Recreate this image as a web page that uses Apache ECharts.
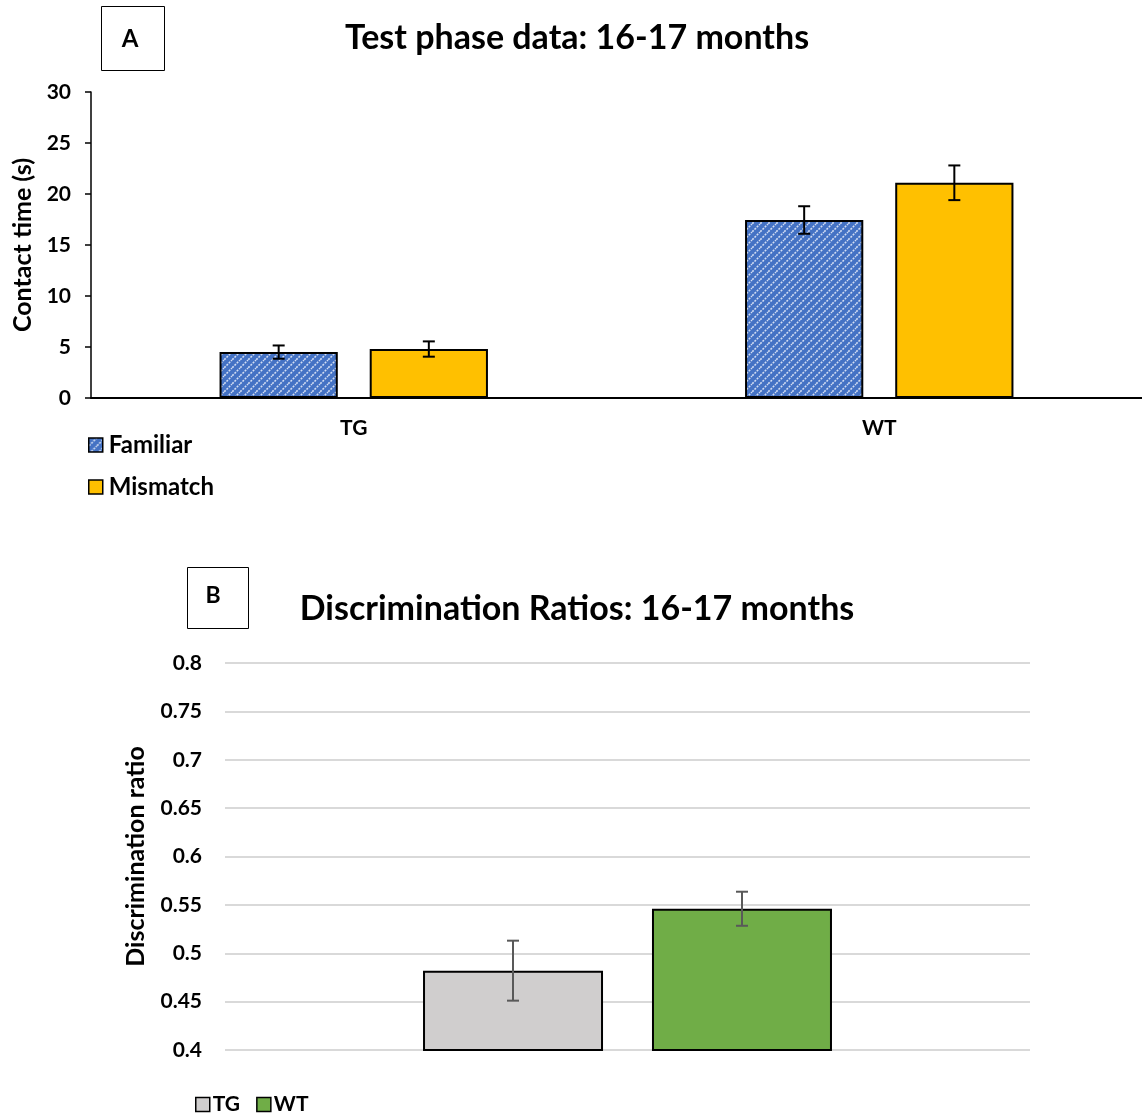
<!DOCTYPE html>
<html><head><meta charset="utf-8">
<script src="https://cdn.jsdelivr.net/npm/echarts@6/dist/echarts.min.js"></script>
<style>html,body{margin:0;padding:0;background:#fff}#c{width:1142px;height:1113px}</style>
</head><body><div id="c"></div>
<script>
// Chart A data
const groupsA = ['TG', 'WT'];
const familiar = [4.5, 17.45];
const familiarErr = [0.65, 1.35];
const mismatch = [4.8, 21.1];
const mismatchErr = [0.75, 1.7];
const ticksA = [0, 5, 10, 15, 20, 25, 30];
// Chart B data
const groupsB = [''];
const ratioTG = [0.482];
const ratioTGErr = [0.031];
const ratioWT = [0.546];
const ratioWTErr = [0.0176];

const FONT = 'Lato';
const W = 'bold';
const BW_A = 0.225, GAP_A = 0.27;
const BW_B = 0.2236, GAP_B = 0.272;

function hatch() {
  const c = document.createElement('canvas');
  c.width = 8; c.height = 8;
  const g = c.getContext('2d');
  g.fillStyle = '#4472C4'; g.fillRect(0, 0, 8, 8);
  g.strokeStyle = 'rgba(235,240,250,0.85)';
  g.lineWidth = 1.6;
  g.setLineDash([2, 1.2]);
  g.beginPath();
  g.moveTo(-2, 10); g.lineTo(10, -2);
  g.moveTo(-6, 6); g.lineTo(6, -6);
  g.moveTo(2, 14); g.lineTo(14, 2);
  g.stroke();
  return c;
}
const pattern = { image: hatch(), repeat: 'repeat' };

function errSeries(xi, yi, means, errs, sign, bw, gap, color) {
  return {
    type: 'custom', xAxisIndex: xi, yAxisIndex: yi, z: 10, silent: true,
    data: means.map((m, i) => [i, m - errs[i], m + errs[i]]),
    renderItem: function (params, api) {
      const band = api.size([1, 0])[0];
      const off = sign * band * (bw / 2 + bw * gap / 2);
      const lo = api.coord([api.value(0), api.value(1)]);
      const hi = api.coord([api.value(0), api.value(2)]);
      const x = lo[0] + off, cap = 6;
      const st = { stroke: color, lineWidth: 2 };
      return { type: 'group', children: [
        { type: 'line', shape: { x1: x, y1: lo[1], x2: x, y2: hi[1] }, style: st },
        { type: 'line', shape: { x1: x - cap, y1: lo[1], x2: x + cap, y2: lo[1] }, style: st },
        { type: 'line', shape: { x1: x - cap, y1: hi[1], x2: x + cap, y2: hi[1] }, style: st }
      ]};
    }
  };
}

const chart = echarts.init(document.getElementById('c'));
chart.setOption({
  backgroundColor: '#fff',
  animation: false,
  textStyle: { fontFamily: FONT },
  title: [
    { text: 'Test phase data: 16-17 months', left: 572, top: 16, textAlign: 'center',
      textStyle: { fontFamily: FONT, fontWeight: W, fontSize: 34, color: '#000' } },
    { text: 'Discrimination Ratios: 16-17 months', left: 572, top: 587, textAlign: 'center',
      textStyle: { fontFamily: FONT, fontWeight: W, fontSize: 34, color: '#000' } }
  ],
  graphic: [
    { type: 'rect', shape: { x: 101.5, y: 6.5, width: 63, height: 64 },
      style: { fill: '#fff', stroke: '#000', lineWidth: 1 } },
    { type: 'text', x: 130, y: 39, style: { text: 'A', fill: '#000', font: W + ' 24px ' + FONT, align: 'center', verticalAlign: 'middle' } },
    { type: 'rect', shape: { x: 187.5, y: 567.5, width: 61, height: 61 },
      style: { fill: '#fff', stroke: '#000', lineWidth: 1 } },
    { type: 'text', x: 213, y: 596, style: { text: 'B', fill: '#000', font: W + ' 23px ' + FONT, align: 'center', verticalAlign: 'middle' } }
  ],
  legend: [
    { data: ['Familiar', 'Mismatch'], orient: 'vertical', left: 83, top: 428,
      icon: 'rect', itemWidth: 14, itemHeight: 14, itemGap: 18,
      itemStyle: { borderColor: '#000', borderWidth: 1.5 },
      textStyle: { fontFamily: FONT, fontWeight: W, fontSize: 24, color: '#000', padding: [0, 0, 0, 1] } },
    { data: ['TG', 'WT'], orient: 'horizontal', left: 190, top: 1089, itemGap: 16,
      icon: 'rect', itemWidth: 14, itemHeight: 14,
      itemStyle: { borderColor: '#000', borderWidth: 1.5 },
      textStyle: { fontFamily: FONT, fontWeight: W, fontSize: 21, color: '#000', padding: [0, 0, 0, -2] } }
  ],
  grid: [
    { left: 91, top: 92, width: 1051, height: 306 },
    { left: 225, top: 663, width: 805, height: 387 }
  ],
  xAxis: [
    { type: 'category', gridIndex: 0, data: groupsA,
      axisLine: { lineStyle: { color: '#000', width: 2 } }, axisTick: { show: false },
      axisLabel: { margin: 20, color: '#000', fontFamily: FONT, fontWeight: W, fontSize: 21 } },
    { type: 'category', gridIndex: 1, data: groupsB,
      axisLine: { show: false }, axisTick: { show: false }, axisLabel: { show: false } }
  ],
  yAxis: [
    { type: 'value', gridIndex: 0, min: ticksA[0], max: ticksA[ticksA.length - 1], interval: 5,
      name: 'Contact time (s)', nameLocation: 'middle', nameGap: 56,
      nameTextStyle: { fontFamily: FONT, fontWeight: W, fontSize: 25, color: '#000' },
      axisLine: { show: true, lineStyle: { color: '#000', width: 1.5 } },
      axisTick: { show: true, length: 6, lineStyle: { color: '#000', width: 1.5 } },
      splitLine: { show: false },
      axisLabel: { margin: 20, color: '#000', fontFamily: FONT, fontWeight: W, fontSize: 21 } },
    { type: 'value', gridIndex: 1, min: 0.4, max: 0.8, interval: 0.05,
      name: 'Discrimination ratio', nameLocation: 'middle', nameGap: 77,
      nameTextStyle: { fontFamily: FONT, fontWeight: W, fontSize: 25, color: '#000' },
      axisLine: { show: false }, axisTick: { show: false },
      splitLine: { show: true, lineStyle: { color: '#d9d9d9', width: 2 } },
      axisLabel: { margin: 23, color: '#000', fontFamily: FONT, fontWeight: W, fontSize: 21,
        formatter: v => String(+v.toFixed(2)) } }
  ],
  series: [
    { name: 'Familiar', type: 'bar', xAxisIndex: 0, yAxisIndex: 0, data: familiar,
      barWidth: (BW_A * 100) + '%', barGap: (GAP_A * 100) + '%',
      itemStyle: { color: pattern, borderColor: '#000', borderWidth: 2 } },
    { name: 'Mismatch', type: 'bar', xAxisIndex: 0, yAxisIndex: 0, data: mismatch,
      barWidth: (BW_A * 100) + '%', barGap: (GAP_A * 100) + '%',
      itemStyle: { color: '#FFC000', borderColor: '#000', borderWidth: 2 } },
    errSeries(0, 0, familiar, familiarErr, -1, BW_A, GAP_A, '#000'),
    errSeries(0, 0, mismatch, mismatchErr, 1, BW_A, GAP_A, '#000'),
    { name: 'TG', type: 'bar', xAxisIndex: 1, yAxisIndex: 1, data: ratioTG,
      barWidth: (BW_B * 100) + '%', barGap: (GAP_B * 100) + '%',
      itemStyle: { color: '#D0CECE', borderColor: '#000', borderWidth: 2 } },
    { name: 'WT', type: 'bar', xAxisIndex: 1, yAxisIndex: 1, data: ratioWT,
      barWidth: (BW_B * 100) + '%', barGap: (GAP_B * 100) + '%',
      itemStyle: { color: '#70AD47', borderColor: '#000', borderWidth: 2 } },
    errSeries(1, 1, ratioTG, ratioTGErr, -1, BW_B, GAP_B, '#595959'),
    errSeries(1, 1, ratioWT, ratioWTErr, 1, BW_B, GAP_B, '#595959')
  ]
});
</script></body></html>
